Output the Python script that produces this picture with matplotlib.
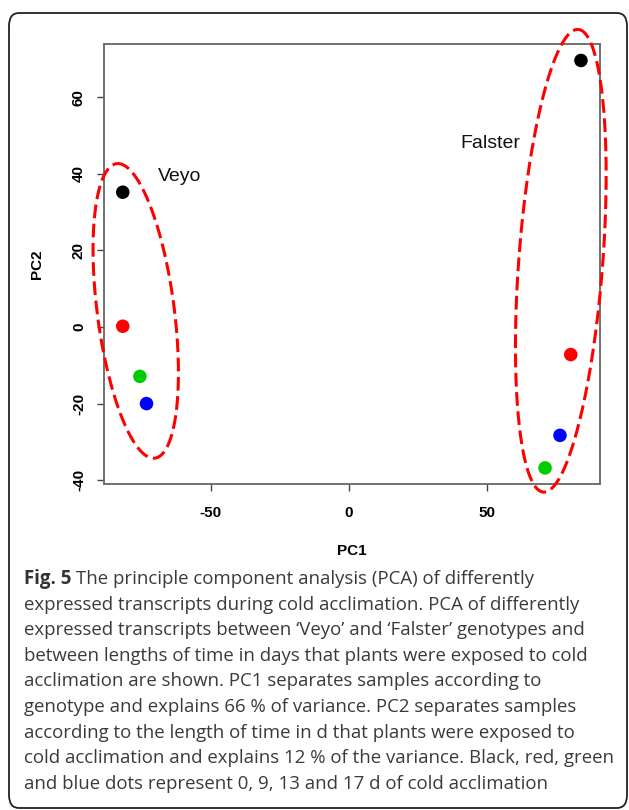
import numpy as np
import matplotlib
matplotlib.use("Agg")
import matplotlib.pyplot as plt
from matplotlib.patches import FancyBboxPatch

# ---- data ----
veyo_pc1 = [-81.8, -81.8, -75.6, -73.2]
veyo_pc2 = [35.2, 0.2, -12.9, -20.0]
falster_pc1 = [84.2, 80.5, 71.2, 76.6]
falster_pc2 = [69.6, -7.2, -36.8, -28.3]
day_colors = ["#000000", "#FF0000", "#00CC00", "#0000FF"]  # 0, 9, 13, 17 d
x_ticks = [-50, 0, 50]
y_ticks = [-40, -20, 0, 20, 40, 60]
group_labels = ["Veyo", "Falster"]
label_pos_x = [-69.0, 40.6]
label_pos_y = [39.3, 47.9]
ellipse_center_x = [-77.1, 76.9]
ellipse_center_y = [4.2, 17.3]

caption_lines = [
    "expressed transcripts during cold acclimation. PCA of differently",
    "expressed transcripts between \u2018Veyo\u2019 and \u2018Falster\u2019 genotypes and",
    "between lengths of time in days that plants were exposed to cold",
    "acclimation are shown. PC1 separates samples according to",
    "genotype and explains 66 % of variance. PC2 separates samples",
    "according to the length of time in d that plants were exposed to",
    "cold acclimation and explains 12 % of the variance. Black, red, green",
    "and blue dots represent 0, 9, 13 and 17 d of cold acclimation",
]

W, H = 629, 810
fig = plt.figure(figsize=(W / 100, H / 100), dpi=100)

# outer rounded frame
frame = FancyBboxPatch((9 / W, 2 / H), (627 - 9) / W, (797 - 2) / H,
                       boxstyle="round,pad=0,rounding_size=0.016",
                       transform=fig.transFigure, fill=False,
                       edgecolor="#222222", linewidth=1.3)
fig.patches.append(frame)

L, R, T, B = 104, 600, 44, 484
ax = fig.add_axes([L / W, (H - B) / H, (R - L) / W, (B - T) / H])
xlim = (-88.6, 91.1)
ylim = (-41.0, 73.9)
ax.set_xlim(*xlim)
ax.set_ylim(*ylim)

ax.scatter(veyo_pc1, veyo_pc2, c=day_colors, s=95, zorder=3, linewidths=0)
ax.scatter(falster_pc1, falster_pc2, c=day_colors, s=95, zorder=3, linewidths=0)

# dashed ellipses (semi-axes and tilt in pixels)
sx = (R - L) / (xlim[1] - xlim[0])
sy = (B - T) / (ylim[1] - ylim[0])
ell_a = [148.5, 232.0]
ell_b = [38.5, 42.0]
ell_tilt = [7.4, -4.3]
t = np.linspace(0, 2 * np.pi, 400)
for cx, cy, a, b, th in zip(ellipse_center_x, ellipse_center_y, ell_a, ell_b, ell_tilt):
    th = np.deg2rad(th)
    ux, uy = -np.sin(th), np.cos(th)
    vx, vy = np.cos(th), np.sin(th)
    px = a * np.cos(t) * ux + b * np.sin(t) * vx
    py = a * np.cos(t) * uy + b * np.sin(t) * vy
    ax.plot(cx + px / sx, cy + py / sy, color="#FF0000", lw=2.2,
            linestyle=(0, (4.5, 1.8)), clip_on=False, zorder=4)

for lab, lx, ly in zip(group_labels, label_pos_x, label_pos_y):
    ax.text(lx, ly, lab, fontsize=14, family="Liberation Sans",
            ha="left", va="center", color="#111111")

ax.set_xticks(x_ticks)
ax.set_yticks(y_ticks)
ax.set_xticklabels([str(v) for v in x_ticks], fontsize=11, fontweight="bold",
                   family="Liberation Sans")
ax.set_yticklabels([str(v) for v in y_ticks], fontsize=11, fontweight="bold",
                   family="Liberation Sans", rotation=90, va="center")
ax.tick_params(axis="x", length=5, width=1.0, color="#444444", pad=11)
ax.tick_params(axis="y", length=5, width=1.0, color="#444444", pad=8)
for sp in ax.spines.values():
    sp.set_color("#666666")
    sp.set_linewidth(1.3)

ax.set_xlabel("PC1", fontsize=11, fontweight="bold", family="Liberation Sans",
              labelpad=17)
ax.set_ylabel("PC2", fontsize=11, fontweight="bold", family="Liberation Sans",
              labelpad=20)

# caption
cap_font = "Open Sans"
cap_size = 13.45
y0 = 579
step = 25.6
t1 = fig.text(24 / W, 1 - y0 / H, "Fig. 5", fontsize=cap_size, fontweight="bold",
              family=cap_font, color="#333333", va="center", ha="left")
fig.canvas.draw()
bb = t1.get_window_extent()
fig.text(bb.x1 / W + 5 / W, 1 - y0 / H,
         "The principle component analysis (PCA) of differently",
         fontsize=cap_size, family=cap_font, color="#3a3a3a", va="center", ha="left")
for i, line in enumerate(caption_lines):
    fig.text(24 / W, 1 - (y0 + step * (i + 1)) / H, line, fontsize=cap_size,
             family=cap_font, color="#3a3a3a", va="center", ha="left")

fig.savefig("out.png", dpi=100)
